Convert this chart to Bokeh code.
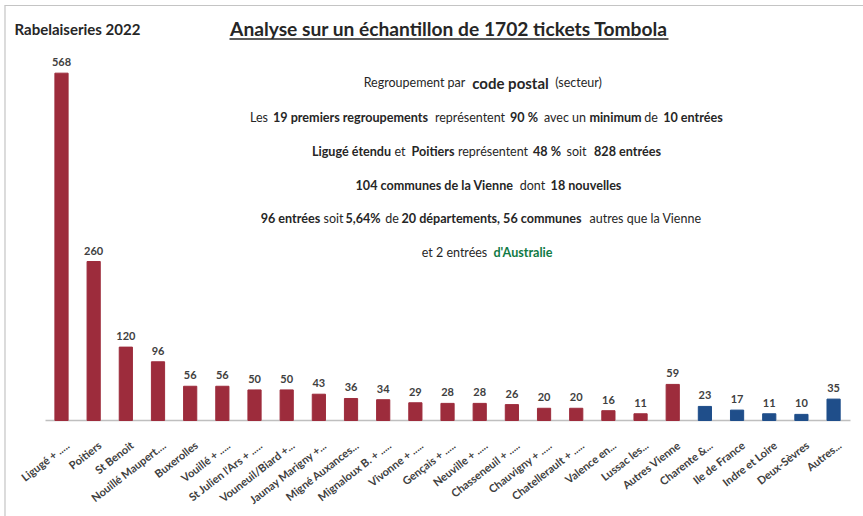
from bokeh.plotting import figure
from bokeh.models import Range1d, ColumnDataSource, Label
from bokeh.core.properties import value
from bokeh.embed import file_html
from bokeh.resources import INLINE

# ---------------- data ----------------
categories = [
    "Ligugé + .....", "Poitiers", "St Benoit", "Nouillé Maupert....", "Buxerolles",
    "Vouillé + .....", "St Julien l'Ars + .....", "Vouneuil/Biard +...", "Jaunay Marigny +...",
    "Migné Auxances...", "Mignaloux B. + .....", "Vivonne + .....", "Gençais + .....",
    "Neuville + .....", "Chasseneuil + .....", "Chauvigny + .....", "Chatellerault + .....",
    "Valence en...", "Lussac les...", "Autres Vienne", "Charente &...", "Ile de France",
    "Indre et Loire", "Deux-Sèvres", "Autres...",
]
counts = [568, 260, 120, 96, 56, 56, 50, 50, 43, 36, 34, 29, 28, 28, 26, 20, 20, 16, 11, 59,
          23, 17, 11, 10, 35]
groups = ["Vienne"] * 20 + ["Hors Vienne"] * 5
group_colors = {"Vienne": "#9d2c3c", "Hors Vienne": "#1f4e8a"}

title_left = "Rabelaiseries 2022"
title_main = "Analyse sur un échantillon de 1702 tickets Tombola"

# annotation lines: (segment text, style) ; n = normal, b = bold, B = bold larger, g = bold green
notes = [
    [("Regroupement par", "n"), ("code postal", "B"), ("(secteur)", "n")],
    [("Les", "n"), ("19 premiers regroupements", "b"), ("représentent", "n"), ("90 %", "b"),
     ("avec un", "n"), ("minimum", "b"), ("de", "n"), ("10 entrées", "b")],
    [("Ligugé étendu", "b"), ("et", "n"), ("Poitiers", "b"), ("représentent", "n"), ("48 %", "b"),
     ("soit", "n"), ("828 entrées", "b")],
    [("104 communes de la Vienne", "b"), ("dont", "n"), ("18 nouvelles", "b")],
    [("96 entrées", "b"), ("soit", "n"), ("5,64%", "b"), ("de", "n"),
     ("20 départements, 56 communes", "b"), ("autres que la Vienne", "n")],
    [("et 2 entrées", "n"), ("d'Australie", "g")],
]

# ---------------- layout (page pixels) ----------------
W, H = 863, 516
BAR0_X, BAR_STEP = 61.0, 32.17      # centre of first bar, spacing between bars
BASE_Y, PX_PER_UNIT = 420.0, 0.6115  # baseline and vertical scale

note_y = [82, 117, 151, 185, 218, 252]
note_cx = [
    [414, 510, 578],
    [258.5, 350, 469.5, 523.5, 564.5, 615, 650.5, 692.5],
    [351, 399.5, 432.5, 492.5, 546.5, 576, 627],
    [434, 532, 585.5],
    [290, 333, 362.5, 391.5, 491, 645],
    [454, 522.5],
]

N = len(categories)


def dx(page_x):
    return (page_x - BAR0_X) / BAR_STEP


def dy(page_y):
    return (BASE_Y - page_y) / PX_PER_UNIT


FONT = "Lato"
TXT = "#262626"

p = figure(width=W, height=H, x_range=Range1d(dx(0), dx(W)), y_range=Range1d(dy(H), dy(0)),
           output_backend="svg", toolbar_location=None,
           x_axis_location=None, y_axis_location=None,
           min_border_left=0, min_border_right=0, min_border_top=0, min_border_bottom=0)
p.outline_line_color = None
p.grid.visible = False
p.background_fill_color = "white"
p.border_fill_color = "white"

src = ColumnDataSource(dict(
    x=list(range(N)),
    count=counts,
    label=[str(c) for c in counts],
    cat=categories,
    color=[group_colors[g] for g in groups],
))

# frame border of the original picture (left and top edges)
p.segment(x0=[dx(4.5), dx(4)], x1=[dx(4.5), dx(W)], y0=[dy(5), dy(5)], y1=[dy(H), dy(5)],
          line_color="#c4c4c4", line_width=1.2)

# baseline (category axis line)
p.segment(x0=[dx(45)], x1=[dx(850)], y0=[0], y1=[0], line_color="#bfbfbf", line_width=1.5)

p.vbar(x="x", top="count", width=0.41, source=src, fill_color="color", line_color="color")

# value labels
p.text(x="x", y="count", text="label", source=src, y_offset=-7,
       text_align="center", text_baseline="bottom", text_font=value(FONT),
       text_font_style="bold", text_font_size="11px", text_color="#404040")

# category tick labels, rotated
p.text(x="x", y=dy(443), text="cat", source=src, x_offset=6, angle=0.66,
       text_align="right", text_baseline="middle", text_font=value(FONT),
       text_font_style="bold", text_font_size="11px", text_color="#404040")

# titles
p.add_layout(Label(x=dx(14), y=dy(28), text=title_left, text_align="left", text_baseline="middle",
                   text_font=FONT, text_font_style="bold", text_font_size="15px", text_color=TXT))
p.add_layout(Label(x=dx(448.5), y=dy(28), text=title_main, text_align="center", text_baseline="middle",
                   text_font=FONT, text_font_style="bold", text_font_size="19.2px", text_color=TXT))
p.segment(x0=[dx(229)], x1=[dx(668)], y0=[dy(38.5)], y1=[dy(38.5)], line_color=TXT, line_width=1.5)

styles = {
    "n": dict(text_font_style="normal", text_font_size="12.5px", text_color=TXT),
    "b": dict(text_font_style="bold", text_font_size="12.6px", text_color=TXT),
    "B": dict(text_font_style="bold", text_font_size="15px", text_color=TXT),
    "g": dict(text_font_style="bold", text_font_size="12.6px", text_color="#0f7a45"),
}
for line, ys, cxs in zip(notes, note_y, note_cx):
    for (txt, st), cx in zip(line, cxs):
        p.add_layout(Label(x=dx(cx), y=dy(ys), text=txt, text_align="center", text_baseline="middle",
                           text_font=FONT, **styles[st]))

open("out.html", "w").write(file_html(p, INLINE))
